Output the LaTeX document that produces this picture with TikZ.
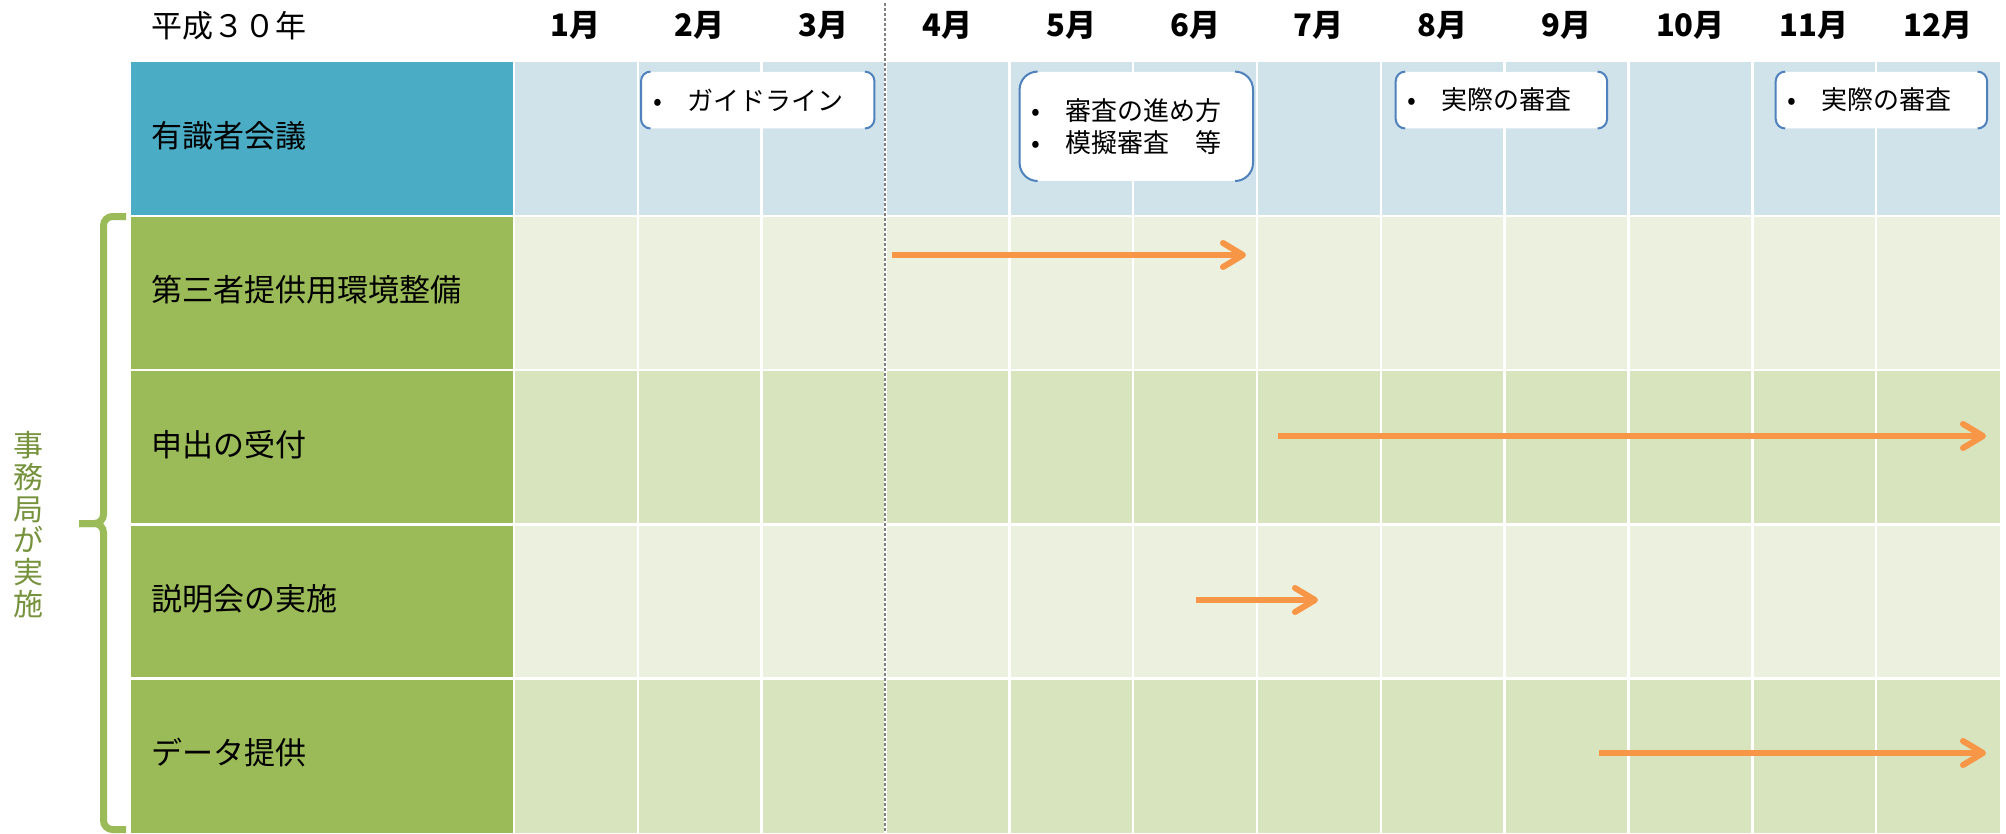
\documentclass[tikz,border=0pt]{standalone}
\usepackage{fontspec}
\setmainfont{Noto Sans CJK JP}
\usetikzlibrary{arrows.meta}
\definecolor{hdrblue}{RGB}{75,172,198}
\definecolor{hdrband}{RGB}{208,226,234}
\definecolor{lblgreen}{RGB}{155,187,89}
\definecolor{bandlight}{RGB}{235,241,222}
\definecolor{banddark}{RGB}{216,228,189}
\definecolor{barorange}{RGB}{247,150,70}
\definecolor{pairblue}{RGB}{79,129,189}
\definecolor{sideolive}{RGB}{118,146,60}
\newcommand{\colW}{123.83}
\newcommand{\rowH}{154.3}
\newcommand{\tabTop}{61.5}
\newcommand{\bulletitem}[1]{\makebox[34pt][l]{•}#1}
\newcommand{\pairbracket}[2]{%
  \draw[pairline] ([xshift=#2]#1.north west) arc[start angle=90,end angle=180,radius=#2]
    -- ([yshift=#2]#1.south west) arc[start angle=180,end angle=270,radius=#2];
  \draw[pairline] ([xshift=-#2]#1.north east) arc[start angle=90,end angle=0,radius=#2]
    -- ([yshift=#2]#1.south east) arc[start angle=0,end angle=-90,radius=#2];
}

\begin{document}
\begin{tikzpicture}[x=1pt,y=-1pt,
  every node/.style={inner sep=0pt},
  gridline/.style={draw=white,line width=2.5pt},
  monthlabel/.style={font=\fontsize{31}{37}\selectfont\bfseries},
  rowlabel/.style={anchor=west,font=\fontsize{31}{37}\selectfont},
  sidelabel/.style={align=center,text=sideolive,font=\fontsize{30}{31.7}\selectfont},
  bubble/.style={anchor=north west,fill=white,align=left,inner xsep=12pt,
    font=\fontsize{26}{32}\selectfont},
  pairline/.style={draw=pairblue,line width=2pt},
  ganttbar/.style={draw=barorange,line width=6pt,
    -{Straight Barb[length=20pt,width=24pt,round]}},
  brace/.style={draw=lblgreen,line width=7pt,rounded corners=9pt}]
  \useasboundingbox (0,0) rectangle (2006,833);

  \fill[hdrblue] (130.5,\tabTop) rectangle (514,\tabTop+\rowH);
  \foreach \i/\band in {0/hdrband,1/bandlight,2/banddark,3/bandlight,4/banddark}
    \fill[\band] (514,\tabTop+\i*\rowH) rectangle (2000,\tabTop+\i*\rowH+\rowH);
  \foreach \i in {1,...,4}
    \fill[lblgreen] (130.5,\tabTop+\i*\rowH) rectangle (514,\tabTop+\i*\rowH+\rowH);
  \foreach \k in {0,...,11}
    \draw[gridline] (514+\k*\colW,\tabTop) -- (514+\k*\colW,833);
  \foreach \i in {1,...,4}
    \draw[gridline] (130.5,\tabTop+\i*\rowH) -- (2000,\tabTop+\i*\rowH);
  \draw[draw=gray,line width=2pt,dash pattern=on 3pt off 2pt] (514+3*\colW,3) -- (514+3*\colW,833);

  \node[rowlabel] (year) at (151,25.5) {平成３０年};
  \foreach \m in {1,...,12}
    \node[monthlabel] (m\m) at (514+\m*\colW-0.5*\colW,25.5) {\m 月};
  \foreach \t [count=\i from 0] in {有識者会議,第三者提供用環境整備,申出の受付,説明会の実施,データ提供}
    \node[rowlabel] (r\i) at (151,\tabTop+\i*\rowH+0.5*\rowH-3) {\t};

  \node[bubble,minimum width=233pt,minimum height=56.5pt,text width=209pt,rounded corners=9.5pt]
    (guide) at (641,71.6) {\bulletitem{ガイドライン}};
  \node[bubble,minimum width=233pt,minimum height=109pt,text width=209pt,rounded corners=18pt]
    (method) at (1019.6,71.6) {\bulletitem{審査の進め方}\\\bulletitem{模擬審査　等}};
  \node[bubble,minimum width=211pt,minimum height=56.5pt,text width=187pt,rounded corners=9.5pt]
    (review1) at (1395.7,71.6) {\bulletitem{実際の審査}};
  \node[bubble,minimum width=211pt,minimum height=56.5pt,text width=187pt,rounded corners=9.5pt]
    (review2) at (1775.7,71.6) {\bulletitem{実際の審査}};
  \pairbracket{guide}{9.5pt}
  \pairbracket{method}{18pt}
  \pairbracket{review1}{9.5pt}
  \pairbracket{review2}{9.5pt}

  \coordinate (env-s) at (892,255);
  \coordinate (env-e) at (1246,255);
  \coordinate (req-s) at (1278,436);
  \coordinate (req-e) at (1986,436);
  \coordinate (brief-s) at (1196,600);
  \coordinate (brief-e) at (1318,600);
  \coordinate (data-s) at (1599,753);
  \coordinate (data-e) at (1986,753);
  \draw[ganttbar] (env-s) -- (env-e);
  \draw[ganttbar] (req-s) -- (req-e);
  \draw[ganttbar] (brief-s) -- (brief-e);
  \draw[ganttbar] (data-s) -- (data-e);

  \coordinate (tip) at (79,523.5);
  \draw[brace] (126,216.5) -- (103.5,216.5) -- (103.5,523.5) -- (tip);
  \draw[brace] (tip) -- (103.5,523.5) -- (103.5,829.5) -- (126,829.5);
  \node[sidelabel] (office) at (28,524.5) {事\\務\\局\\が\\実\\施};
\end{tikzpicture}
\end{document}
